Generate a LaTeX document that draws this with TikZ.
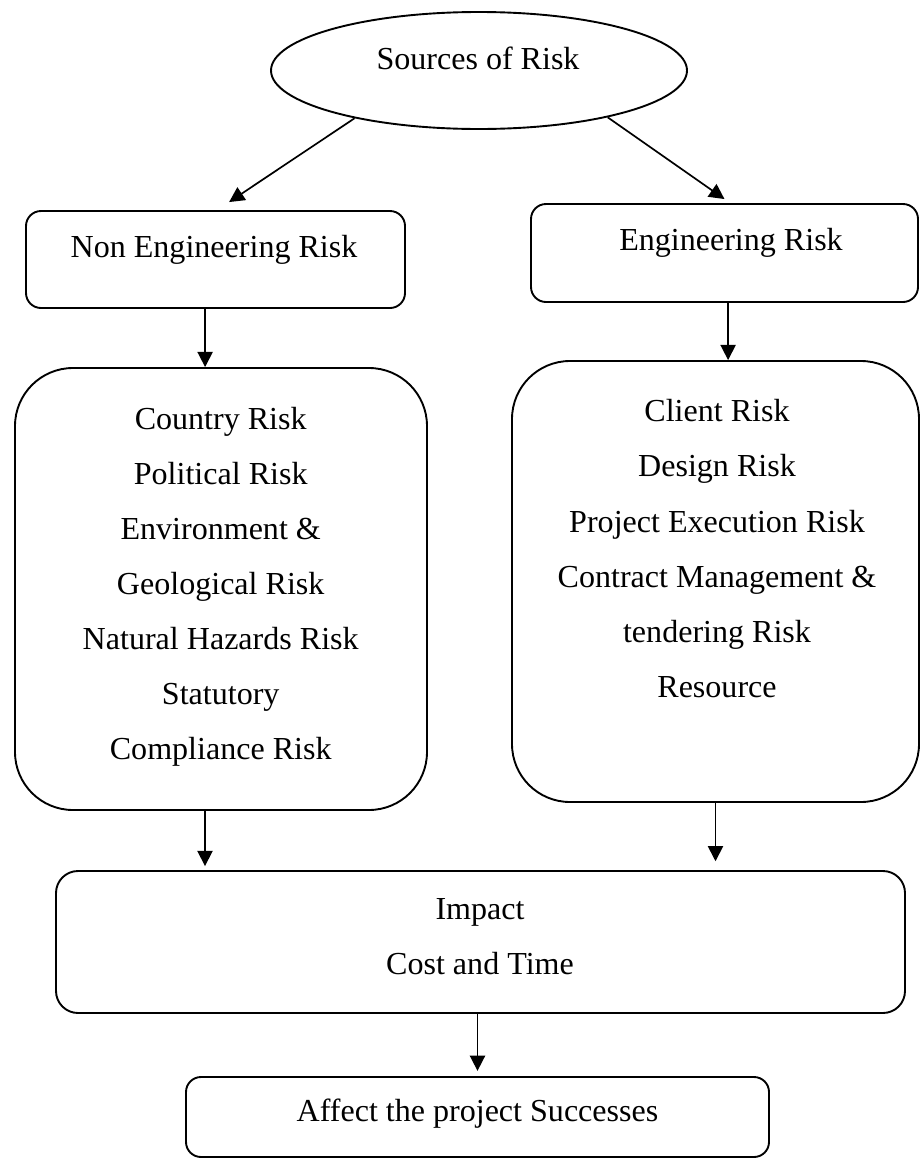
\documentclass[tikz,border=0pt]{standalone}
\usepackage{fontspec}
\setmainfont{Liberation Serif}
\usetikzlibrary{shapes.geometric, arrows.meta, positioning, calc}

\begin{document}
\begin{tikzpicture}[
  box/.style={draw, line width=1.35pt, rounded corners=0.375cm, inner sep=0pt},
  bigbox/.style={box, rounded corners=1.45cm},
  txt/.style={font=\fontsize{22.8pt}{27pt}\selectfont, inner sep=0pt, anchor=base},
  flow/.style={-{Triangle[length=0.38cm, width=0.38cm]}, line width=1.2pt}
]
\useasboundingbox (0,0) rectangle (23,-28.95);

% Source of risk
\node[ellipse, draw, line width=1.35pt, minimum width=10.4cm, minimum height=2.925cm, inner sep=0pt] (src) at (11.975,-1.7625) {};
\node[txt] (srcText) at (11.95,-1.7375) {Sources of Risk};

% Two groups of risk
\node[box, minimum width=9.475cm, minimum height=2.425cm] (nonEng) at (5.3875,-6.4875) {};
\node[txt] (nonEngText) at (5.35,-6.425) {Non Engineering Risk};
\node[box, minimum width=9.675cm, minimum height=2.45cm] (eng) at (18.1125,-6.325) {};
\node[txt] (engText) at (18.275,-6.25) {Engineering Risk};

% Lists of risks
\node[bigbox, minimum width=10.3cm, minimum height=11.05cm] (nonRisks) at (5.525,-14.725) {};
\foreach \i/\t in {0/Country Risk, 1/Political Risk, 2/Environment \&, 3/Geological Risk, 4/Natural Hazards Risk, 5/Statutory, 6/Compliance Risk}
  \node[txt] (nr\i) at (5.5175,-10.7325-1.375*\i) {\t};

\node[bigbox, minimum width=10.175cm, minimum height=11.025cm] (engRisks) at (17.8875,-14.5375) {};
\foreach \i/\t in {0/Client Risk, 1/Design Risk, 2/Project Execution Risk, 3/Contract Management \&, 4/tendering Risk, 5/Resource}
  \node[txt] (er\i) at (17.925,-10.5425-1.38*\i) {\t};

% Impact and outcome
\node[box, rounded corners=0.55cm, minimum width=21.225cm, minimum height=3.55cm] (impact) at (12.0125,-23.55) {};
\node[txt] (impactText) at (12,-22.975) {Impact};
\node[txt] (costText) at (12,-24.35) {Cost and Time};

\node[box, minimum width=14.575cm, minimum height=2cm] (affect) at (11.9375,-27.925) {};
\node[txt] (affectText) at (11.9375,-28.0425) {Affect the project Successes};

% Connectors
\draw[flow] (src.201) -- ([xshift=0.34cm,yshift=0.2cm]nonEng.north);
\draw[flow] (src.340) -- ([yshift=0.1cm]eng.north);
\draw[flow] ($(nonEng.south)+(-0.26,0)$) -- ($(nonEng.south |- nonRisks.north)+(-0.26,0)$);
\draw[flow] ($(eng.south)+(0.09,0)$) -- ($(eng.south |- engRisks.north)+(0.09,0)$);
\draw[flow] ($(nonRisks.south)+(-0.4,0)$) -- ($(nonRisks.south |- impact.north)+(-0.4,0.1)$);
\draw[flow] (engRisks.south) -- ($(engRisks.south |- impact.north)+(0,0.22)$);
\draw[flow] (impact.south -| affect.north) -- ($(affect.north)+(0,0.13)$);

\end{tikzpicture}
\end{document}
